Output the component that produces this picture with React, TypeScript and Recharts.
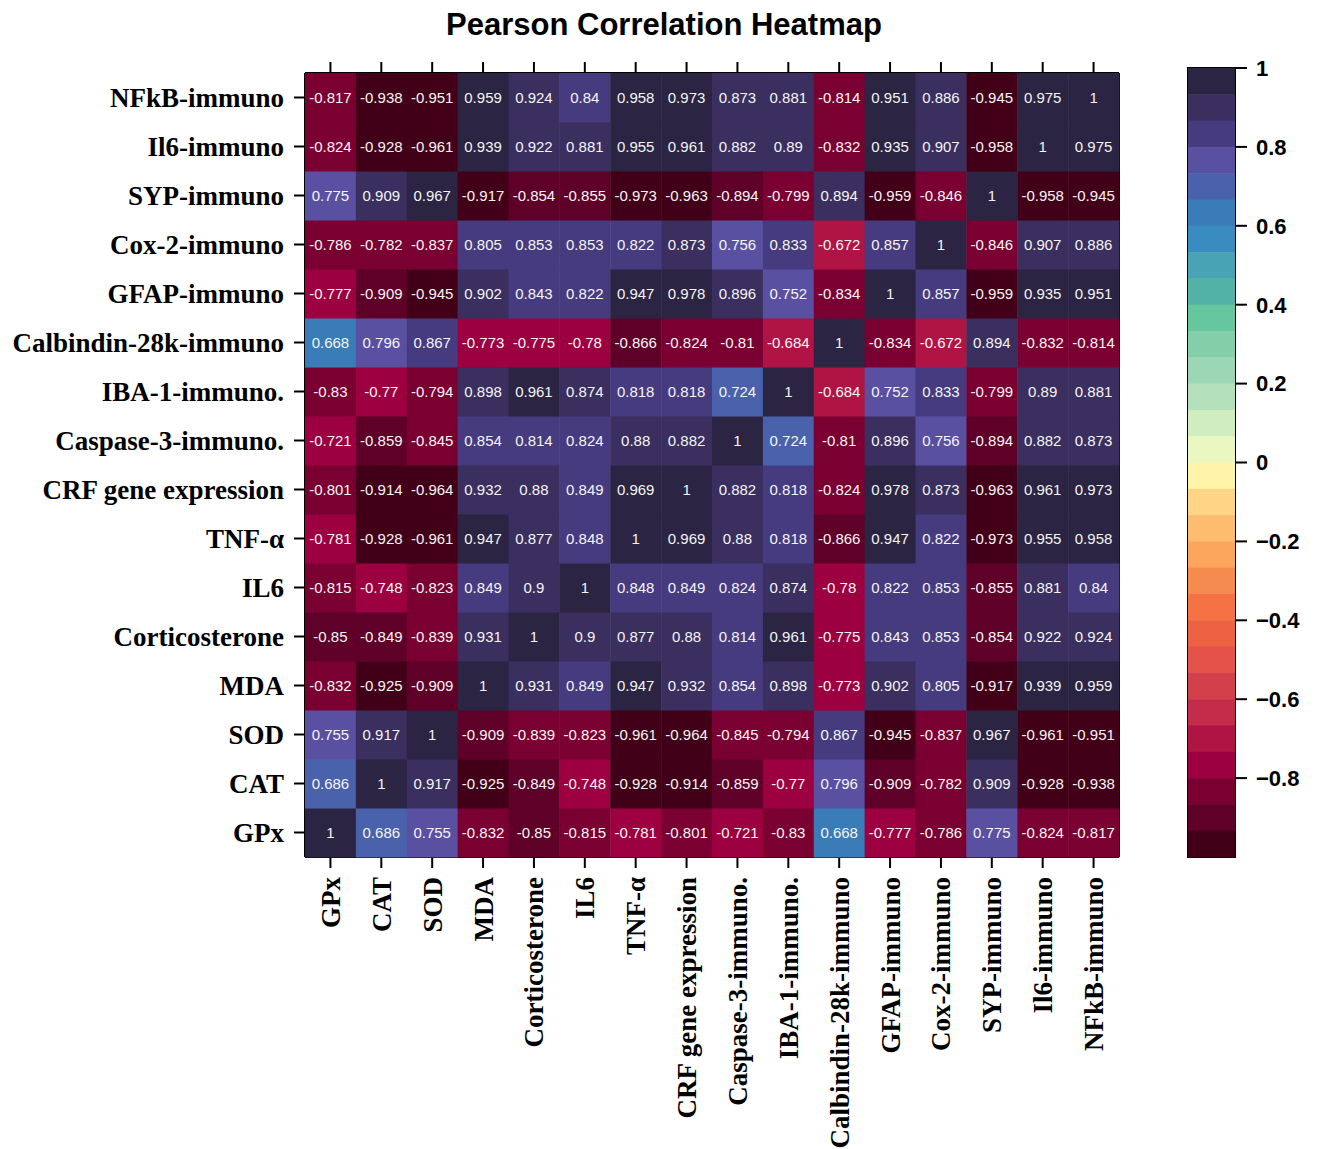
import { ScatterChart, Scatter, XAxis, YAxis, ReferenceArea } from "recharts";

// variables in axis order (x left->right, y bottom->top)
const variables = [
  "GPx",
  "CAT",
  "SOD",
  "MDA",
  "Corticosterone",
  "IL6",
  "TNF-α",
  "CRF gene expression",
  "Caspase-3-immuno.",
  "IBA-1-immuno.",
  "Calbindin-28k-immuno",
  "GFAP-immuno",
  "Cox-2-immuno",
  "SYP-immuno",
  "Il6-immuno",
  "NFkB-immuno",
];

const gpx = [1, 0.686, 0.755, -0.832, -0.85, -0.815, -0.781, -0.801, -0.721, -0.83, 0.668, -0.777, -0.786, 0.775, -0.824, -0.817];
const cat = [0.686, 1, 0.917, -0.925, -0.849, -0.748, -0.928, -0.914, -0.859, -0.77, 0.796, -0.909, -0.782, 0.909, -0.928, -0.938];
const sod = [0.755, 0.917, 1, -0.909, -0.839, -0.823, -0.961, -0.964, -0.845, -0.794, 0.867, -0.945, -0.837, 0.967, -0.961, -0.951];
const mda = [-0.832, -0.925, -0.909, 1, 0.931, 0.849, 0.947, 0.932, 0.854, 0.898, -0.773, 0.902, 0.805, -0.917, 0.939, 0.959];
const corticosterone = [-0.85, -0.849, -0.839, 0.931, 1, 0.9, 0.877, 0.88, 0.814, 0.961, -0.775, 0.843, 0.853, -0.854, 0.922, 0.924];
const il6 = [-0.815, -0.748, -0.823, 0.849, 0.9, 1, 0.848, 0.849, 0.824, 0.874, -0.78, 0.822, 0.853, -0.855, 0.881, 0.84];
const tnf = [-0.781, -0.928, -0.961, 0.947, 0.877, 0.848, 1, 0.969, 0.88, 0.818, -0.866, 0.947, 0.822, -0.973, 0.955, 0.958];
const crf = [-0.801, -0.914, -0.964, 0.932, 0.88, 0.849, 0.969, 1, 0.882, 0.818, -0.824, 0.978, 0.873, -0.963, 0.961, 0.973];
const caspase3 = [-0.721, -0.859, -0.845, 0.854, 0.814, 0.824, 0.88, 0.882, 1, 0.724, -0.81, 0.896, 0.756, -0.894, 0.882, 0.873];
const iba1 = [-0.83, -0.77, -0.794, 0.898, 0.961, 0.874, 0.818, 0.818, 0.724, 1, -0.684, 0.752, 0.833, -0.799, 0.89, 0.881];
const calbindin = [0.668, 0.796, 0.867, -0.773, -0.775, -0.78, -0.866, -0.824, -0.81, -0.684, 1, -0.834, -0.672, 0.894, -0.832, -0.814];
const gfap = [-0.777, -0.909, -0.945, 0.902, 0.843, 0.822, 0.947, 0.978, 0.896, 0.752, -0.834, 1, 0.857, -0.959, 0.935, 0.951];
const cox2 = [-0.786, -0.782, -0.837, 0.805, 0.853, 0.853, 0.822, 0.873, 0.756, 0.833, -0.672, 0.857, 1, -0.846, 0.907, 0.886];
const syp = [0.775, 0.909, 0.967, -0.917, -0.854, -0.855, -0.973, -0.963, -0.894, -0.799, 0.894, -0.959, -0.846, 1, -0.958, -0.945];
const il6Immuno = [-0.824, -0.928, -0.961, 0.939, 0.922, 0.881, 0.955, 0.961, 0.882, 0.89, -0.832, 0.935, 0.907, -0.958, 1, 0.975];
const nfkb = [-0.817, -0.938, -0.951, 0.959, 0.924, 0.84, 0.958, 0.973, 0.873, 0.881, -0.814, 0.951, 0.886, -0.945, 0.975, 1];

const rows = [gpx, cat, sod, mda, corticosterone, il6, tnf, crf, caspase3, iba1, calbindin, gfap, cox2, syp, il6Immuno, nfkb];

const colorbarTicks = [1, 0.8, 0.6, 0.4, 0.2, 0, -0.2, -0.4, -0.6, -0.8];

// 30 discrete levels, top (1) to bottom (-1)
const palette = [
  "#2b2442", "#3a2f5f", "#473b7f", "#5a50a2", "#4a62ac", "#3a7cb8",
  "#3a8cc0", "#48a4b4", "#52b2a8", "#66c6a0", "#84cfaa", "#9cd7b5",
  "#b5e0bc", "#d0edbf", "#eaf7c0", "#fff4aa", "#fed486", "#fdbc6e",
  "#fca55c", "#f58b4e", "#f47244", "#ec6242", "#e4524a", "#d2404b",
  "#c42c4a", "#b01444", "#9c0040", "#7a0032", "#5e0028", "#420018",
];

const W = 1319;
const H = 1149;
const PLOT_LEFT = 305;
const PLOT_RIGHT = 1119;
const PLOT_TOP = 73;
const PLOT_BOTTOM = 857;
const N = variables.length;
const cellW = (PLOT_RIGHT - PLOT_LEFT) / N;
const cellH = (PLOT_BOTTOM - PLOT_TOP) / N;

const CB_TOP = 68;
const CB_BOTTOM = 857;
const CB_W = 47;
const binStep = 2 / palette.length;
const binH = (CB_BOTTOM - CB_TOP) / palette.length;

const colorFor = (v: number) => {
  const i = Math.floor((1 - v) / 0.066);
  return palette[Math.max(0, Math.min(palette.length - 1, i))];
};

const cells = rows.flatMap((row, yi) => row.map((v, xi) => ({ x: xi, y: yi, v })));
const bins = palette.map((c, i) => ({ x: 0.5, y: 1 - (i + 0.5) * binStep, c }));
const indexTicks = variables.map((_, i) => i);

const serif = "'Liberation Serif', 'Times New Roman', serif";
const sans = "'Liberation Sans', Arial, sans-serif";

const HeatCell = (props: any) => {
  const { cx, cy, payload } = props;
  return (
    <g>
      <rect
        x={cx - cellW / 2}
        y={cy - cellH / 2}
        width={cellW + 0.5}
        height={cellH + 0.5}
        fill={colorFor(payload.v)}
      />
      <text
        x={cx}
        y={cy}
        dy="0.35em"
        textAnchor="middle"
        fill="#f4f4f4"
        fontSize={15}
        fontFamily={sans}
      >
        {String(payload.v)}
      </text>
    </g>
  );
};

const BinCell = (props: any) => {
  const { cx, cy, payload } = props;
  return <rect x={cx - CB_W / 2} y={cy - binH / 2} width={CB_W} height={binH + 0.5} fill={payload.c} />;
};

const BottomTick = (props: any) => {
  const { x, y, payload } = props;
  return (
    <text
      x={x}
      y={y}
      dy="0.35em"
      transform={`rotate(-90, ${x}, ${y})`}
      textAnchor="end"
      fill="#000"
      fontSize={27}
      fontWeight="bold"
      fontFamily={serif}
    >
      {variables[payload.value]}
    </text>
  );
};

const axisStroke = { stroke: "#000", strokeWidth: 2 };

const fmtBar = (v: number) => (v < 0 ? `\u2212${Math.abs(v)}` : String(v));

export default function App() {
  return (
    <div style={{ position: "absolute", left: 0, top: 0, width: W, height: H, background: "#fff" }}>
      <div
        style={{
          position: "absolute",
          left: 364,
          top: 9,
          width: 600,
          textAlign: "center",
          fontFamily: sans,
          fontWeight: "bold",
          fontSize: 31,
          lineHeight: "31px",
          color: "#000",
        }}
      >
        Pearson Correlation Heatmap
      </div>

      <div style={{ position: "absolute", left: 0, top: 0 }}>
        <ScatterChart
          width={W}
          height={H}
          margin={{ top: PLOT_TOP - 20, bottom: H - PLOT_BOTTOM - 280, left: PLOT_LEFT - 300, right: W - PLOT_RIGHT - 1 }}
        >
          <XAxis
            dataKey="x"
            type="number"
            domain={[-0.5, N - 0.5]}
            ticks={indexTicks}
            interval={0}
            height={280}
            tickSize={11}
            tickMargin={9}
            axisLine={axisStroke}
            tickLine={axisStroke}
            tick={<BottomTick />}
          />
          <XAxis
            xAxisId="top"
            dataKey="x"
            orientation="top"
            type="number"
            domain={[-0.5, N - 0.5]}
            ticks={indexTicks}
            interval={0}
            height={20}
            tickSize={11}
            axisLine={axisStroke}
            tickLine={axisStroke}
            tick={() => <g />}
          />
          <YAxis
            dataKey="y"
            type="number"
            domain={[-0.5, N - 0.5]}
            ticks={indexTicks}
            interval={0}
            width={300}
            tickSize={11}
            tickMargin={10}
            axisLine={axisStroke}
            tickLine={axisStroke}
            tickFormatter={(v: number) => variables[v]}
            tick={{ fill: "#000", fontSize: 27, fontWeight: "bold", fontFamily: serif }}
          />
          <YAxis
            yAxisId="right"
            dataKey="y"
            orientation="right"
            type="number"
            domain={[-0.5, N - 0.5]}
            width={1}
            tick={false}
            tickLine={false}
            axisLine={axisStroke}
          />
          <Scatter data={cells} shape={<HeatCell />} isAnimationActive={false} />
          <Scatter
            data={cells}
            xAxisId="top"
            yAxisId="right"
            shape={() => <g />}
            isAnimationActive={false}
          />
        </ScatterChart>
      </div>

      <div style={{ position: "absolute", left: 1150, top: 0 }}>
        <ScatterChart width={169} height={H} margin={{ top: CB_TOP, bottom: H - CB_BOTTOM, left: 38, right: 0 }}>
          <XAxis xAxisId="cb" dataKey="x" type="number" domain={[0, 1]} hide />
          <YAxis
            yAxisId="cb"
            dataKey="y"
            orientation="right"
            type="number"
            domain={[-1, 1]}
            ticks={colorbarTicks}
            interval={0}
            width={84}
            tickSize={12}
            tickMargin={9}
            axisLine={axisStroke}
            tickLine={axisStroke}
            tickFormatter={fmtBar}
            tick={{ fill: "#000", fontSize: 22, fontWeight: "bold", fontFamily: sans }}
          />
          <Scatter data={bins} xAxisId="cb" yAxisId="cb" shape={<BinCell />} isAnimationActive={false} />
          <ReferenceArea
            xAxisId="cb"
            yAxisId="cb"
            x1={0}
            x2={1}
            y1={-1}
            y2={1}
            fill="none"
            stroke="#000"
            strokeWidth={2}
            ifOverflow="visible"
          />
        </ScatterChart>
      </div>
    </div>
  );
}
